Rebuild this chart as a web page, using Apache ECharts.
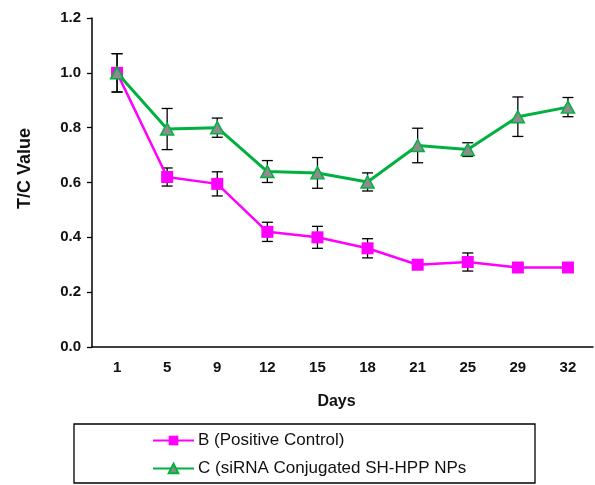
<!DOCTYPE html>
<html>
<head>
<meta charset="utf-8">
<script src="https://cdn.jsdelivr.net/npm/echarts@6/dist/echarts.min.js"></script>
<style>
  html, body { margin: 0; padding: 0; background: #fff; }
  #chart { width: 595px; height: 485px; }
</style>
</head>
<body>
<div id="chart"></div>
<script>
// Days of measurement
const days = ['1', '5', '9', '12', '15', '18', '21', '25', '29', '32'];

// Group B (Positive Control): mean T/C values and error half-widths
const groupB = [1.00, 0.62, 0.595, 0.42, 0.40, 0.36, 0.30, 0.31, 0.29, 0.29];
const groupBErr = [0.07, 0.033, 0.044, 0.035, 0.04, 0.035, 0.01, 0.033, 0.01, 0.01];

// Group C (siRNA conjugated SH-HPP NPs): mean T/C values and error half-widths
const groupC = [1.00, 0.795, 0.80, 0.64, 0.635, 0.602, 0.735, 0.72, 0.84, 0.875];
const groupCErr = [0.07, 0.075, 0.035, 0.04, 0.056, 0.033, 0.063, 0.025, 0.072, 0.035];

const yTicks = [0, 0.2, 0.4, 0.6, 0.8, 1.0, 1.2];

const nameB = 'B (Positive Control)';
const nameC = 'C (siRNA Conjugated SH-HPP NPs';

const FONT = '"Liberation Sans", Arial, sans-serif';

// Vertical error bar with caps, drawn from value +/- half-width
function errorBarRenderer(params, api) {
  const x = api.value(0);
  const lo = api.coord([x, api.value(1)]);
  const hi = api.coord([x, api.value(2)]);
  const cap = 5.5;
  const style = { stroke: '#000', lineWidth: 1.3 };
  return {
    type: 'group',
    children: [
      { type: 'line', shape: { x1: hi[0], y1: hi[1], x2: lo[0], y2: lo[1] }, style },
      { type: 'line', shape: { x1: hi[0] - cap, y1: hi[1], x2: hi[0] + cap, y2: hi[1] }, style },
      { type: 'line', shape: { x1: lo[0] - cap, y1: lo[1], x2: lo[0] + cap, y2: lo[1] }, style }
    ]
  };
}

function errorData(values, errs) {
  return values.map((v, i) => [i, v - errs[i], v + errs[i]]);
}

const chart = echarts.init(document.getElementById('chart'), null, { renderer: 'canvas' });

chart.setOption({
  animation: false,
  backgroundColor: '#fff',
  grid: { left: 92, right: 2, top: 18, bottom: 138 },
  xAxis: {
    type: 'category',
    data: days,
    boundaryGap: true,
    name: 'Days',
    nameLocation: 'middle',
    nameGap: 47,
    nameTextStyle: {
      fontFamily: FONT, fontWeight: 'bold', fontSize: 16, color: '#111',
      padding: [0, 12, 0, 0]
    },
    axisLine: { lineStyle: { color: '#000', width: 1.5 } },
    axisTick: { alignWithLabel: true, length: 5, lineStyle: { color: '#000', width: 1.3 } },
    axisLabel: { fontFamily: FONT, fontWeight: 'bold', fontSize: 15, color: '#111', margin: 13 },
    splitLine: { show: false }
  },
  yAxis: {
    type: 'value',
    min: 0,
    max: 1.2,
    interval: 0.2,
    name: 'T/C Value',
    nameLocation: 'middle',
    nameGap: 58,
    nameTextStyle: {
      fontFamily: FONT, fontWeight: 'bold', fontSize: 18, color: '#111',
      padding: [0, 0, 0, 28]
    },
    axisLine: { show: true, lineStyle: { color: '#000', width: 1.5 } },
    axisTick: { show: true, length: 5, lineStyle: { color: '#000', width: 1.3 } },
    axisLabel: {
      fontFamily: FONT, fontWeight: 'bold', fontSize: 15, color: '#111', margin: 11,
      formatter: v => yTicks.includes(Math.round(v * 10) / 10) ? v.toFixed(1) : ''
    },
    splitLine: { show: false }
  },
  legend: {
    orient: 'vertical',
    left: 152,
    top: 432,
    itemWidth: 41,
    itemHeight: 12,
    itemGap: 11,
    padding: 0,
    textStyle: { fontFamily: FONT, fontSize: 17, color: '#111', padding: [0, 0, 0, -1] },
    data: [nameB, nameC]
  },
  graphic: [
    {
      type: 'rect',
      shape: { x: 74, y: 424, width: 461, height: 59 },
      style: { fill: 'none', stroke: '#000', lineWidth: 1.3 },
      z: 0
    }
  ],
  series: [
    {
      name: nameB,
      type: 'line',
      data: groupB,
      symbol: 'rect',
      symbolSize: 12,
      lineStyle: { color: '#ff00ff', width: 2.5 },
      itemStyle: { color: '#ff00ff', borderColor: '#ff00ff', borderWidth: 0 },
      z: 3
    },
    {
      name: nameC,
      type: 'line',
      data: groupC,
      symbol: 'triangle',
      symbolSize: [13, 12],
      lineStyle: { color: '#00b140', width: 3 },
      itemStyle: { color: '#8c8c8c', borderColor: '#00b140', borderWidth: 1.5 },
      z: 3
    },
    {
      type: 'custom',
      renderItem: errorBarRenderer,
      data: errorData(groupB, groupBErr),
      encode: { x: 0, y: [1, 2] },
      z: 2,
      silent: true
    },
    {
      type: 'custom',
      renderItem: errorBarRenderer,
      data: errorData(groupC, groupCErr),
      encode: { x: 0, y: [1, 2] },
      z: 2,
      silent: true
    }
  ]
});
</script>
</body>
</html>
